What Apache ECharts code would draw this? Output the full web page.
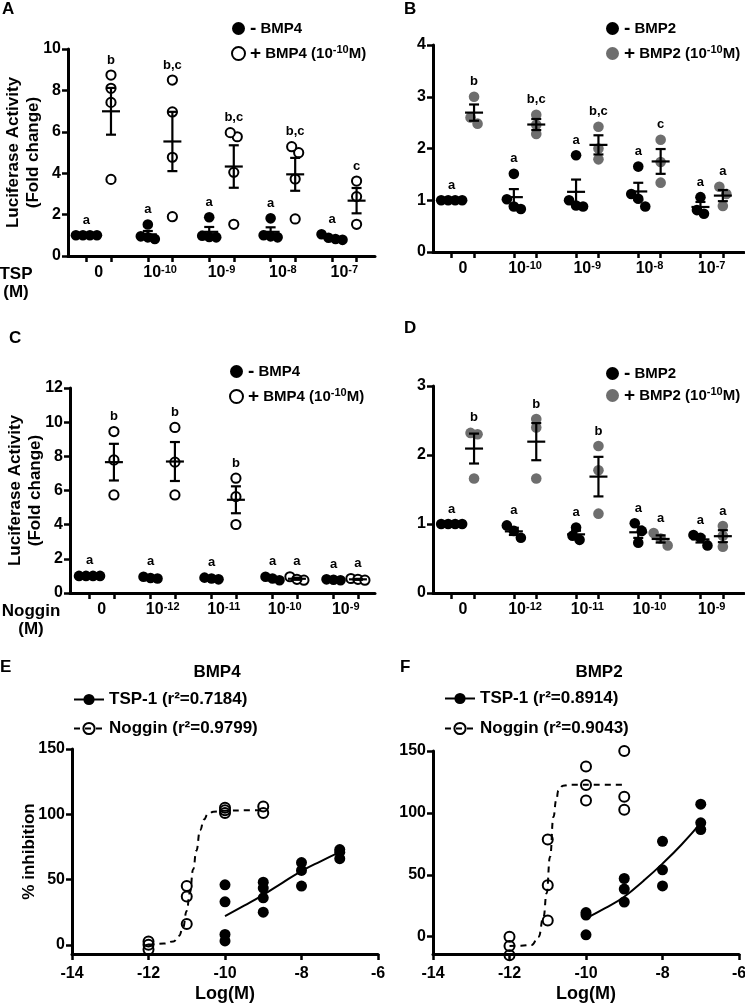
<!DOCTYPE html>
<html><head><meta charset="utf-8">
<script src="https://cdn.jsdelivr.net/npm/echarts@6/dist/echarts.min.js"></script>
<style>html,body{margin:0;padding:0;background:#fff}#c{width:745px;height:1004px}</style>
</head><body><div id="c"></div>
<script>
// ---------------- data ----------------
const tspLabels = ['0', '10^-10', '10^-9', '10^-8', '10^-7'];
const nogginLabels = ['0', '10^-12', '10^-11', '10^-10', '10^-9'];
const bmp4Names = ['- BMP4', '+ BMP4 (10^-10M)'];
const bmp2Names = ['- BMP2', '+ BMP2 (10^-10M)'];

// Panel A (TSP, BMP4)
const aMinus = [[1, 1, 1, 1], [1.52, 0.95, 0.9, 0.82], [1.87, 0.98, 0.92, 0.9], [1.82, 1.0, 0.95, 0.9], [1.05, 0.82, 0.78, 0.88]];
const aPlus = [[8.74, 8.1, 7.42, 3.7], [8.5, 6.96, 4.77, 1.9], [5.76, 5.96, 4.04, 1.53], [4.99, 5.28, 3.72, 1.79], [3.62, 2.87, 1.53]];
const aMinusLetters = ['a', 'a', 'a', 'a', 'a'];
const aPlusLetters = ['b', 'b,c', 'b,c', 'b,c', 'c'];

// Panel B (TSP, BMP2)
const bMinus = [[1, 1, 1, 1], [1.51, 1.02, 0.88, 0.83], [1.87, 1.0, 0.9, 0.88], [1.65, 1.12, 0.88, 1.03], [1.06, 0.74, 0.81]];
const bPlus = [[3.0, 2.6, 2.48], [2.65, 2.46, 2.28], [2.42, 2.0, 1.79], [2.17, 1.74, 1.34], [1.26, 1.12, 0.89]];
const bMinusLetters = ['a', 'a', 'a', 'a', 'a'];
const bPlusLetters = ['b', 'b,c', 'b,c', 'c', 'a'];

// Panel C (Noggin, BMP4)
const cMinus = [[1, 1, 1, 1], [0.95, 0.88, 0.85], [0.9, 0.85, 0.8], [0.95, 0.85, 0.75], [0.8, 0.78, 0.75]];
const cPlus = [[9.45, 7.79, 5.74], [9.69, 7.66, 5.74], [6.72, 5.64, 4.01], [0.95, 0.75, 0.8], [0.85, 0.8, 0.75]];
const cMinusLetters = ['a', 'a', 'a', 'a', 'a'];
const cPlusLetters = ['b', 'b', 'b', 'a', 'a'];

// Panel D (Noggin, BMP2)
const dMinus = [[1, 1, 1, 1], [0.98, 0.9, 0.8], [0.95, 0.83, 0.77], [1.01, 0.9, 0.73], [0.84, 0.8, 0.69]];
const dPlus = [[2.32, 2.3, 1.66], [2.52, 2.4, 1.66], [2.13, 1.78, 1.15], [0.87, 0.79, 0.69], [0.97, 0.83, 0.67]];
const dMinusLetters = ['a', 'a', 'a', 'a', 'a'];
const dPlusLetters = ['b', 'b', 'b', 'a', 'a'];

// Panel E (BMP4 % inhibition)
const eTspPoints = [[-10, 46], [-10, 33], [-10, 8], [-10, 3], [-9, 48], [-9, 43.5], [-9, 36], [-9, 25], [-8, 63], [-8, 57], [-8, 45], [-7, 73], [-7, 71], [-7, 66]];
const eNogPoints = [[-12, 2.5], [-12, 0], [-12, -3.5], [-11, 45], [-11, 37], [-11, 16], [-10, 105], [-10, 103], [-10, 101], [-9, 106], [-9, 101]];
const eTspCurve = [[-10, 22], [-9.5, 30], [-9, 38.3], [-8.5, 47.5], [-8, 56.5], [-7.5, 64], [-7, 71]];
const eNogCurve = [[-12, 0], [-11.6, 1], [-11.35, 2.6], [-11.2, 7], [-11.1, 13], [-11.0, 26], [-10.92, 40], [-10.83, 58], [-10.75, 72], [-10.65, 88], [-10.55, 96], [-10.45, 100], [-10.3, 102], [-10, 102.8], [-9.5, 103], [-9, 103]];

// Panel F (BMP2 % inhibition)
const fTspPoints = [[-10, 19.5], [-10, 17.5], [-10, 1.5], [-9, 47], [-9, 38.5], [-9, 28], [-8, 77], [-8, 54], [-8, 41], [-7, 107], [-7, 92], [-7, 86.5]];
const fNogPoints = [[-12, 0], [-12, -7.5], [-12, -15], [-11, 78.5], [-11, 41.5], [-11, 13], [-10, 137.5], [-10, 122.5], [-10, 110], [-9, 150], [-9, 113], [-9, 102.5]];
const fTspCurve = [[-10, 14.8], [-9.5, 23], [-9, 32.3], [-8.5, 45], [-8, 59], [-7.5, 74.5], [-7, 92]];
const fNogCurve = [[-12, -7.5], [-11.7, -7.3], [-11.42, -6.7], [-11.24, 0], [-11.11, 16], [-11.03, 35], [-10.94, 64.5], [-10.85, 96.8], [-10.78, 110], [-10.72, 118], [-10.6, 122], [-10.4, 122.8], [-9, 122.8]];

// ---------------- styling / building ----------------
const FONT = "'Liberation Sans', Arial, Helvetica, sans-serif";
const TXT = { fontFamily: FONT, fontWeight: 'bold', color: '#000' };
const GREY = '#6e6e6e';
const rich = {
  s: { fontFamily: FONT, fontWeight: 'bold', color: '#000', fontSize: 11, lineHeight: 11, verticalAlign: 'top' },
  pm: { fontFamily: FONT, fontWeight: 'bold', color: '#000', fontSize: 19, lineHeight: 18 }
};
function fmt(s) { return s.replace(/^([-+]) /, '{pm|$1} ').replace(/\^(-?\d+)/, '{s|$1}'); }

function swarm(pts) {
  const idx = pts.map((p, i) => i).sort((a, b) => pts[a][1] - pts[b][1]);
  const clusters = []; let cl = [idx[0]];
  for (let k = 1; k < idx.length; k++) {
    if (pts[idx[k]][1] - pts[cl[cl.length - 1]][1] < 8) cl.push(idx[k]);
    else { clusters.push(cl); cl = [idx[k]]; }
  }
  clusters.push(cl);
  clusters.forEach(c => c.forEach((i, j) => { pts[i][0] += (j - (c.length - 1) / 2) * 7; }));
}

function dotSeries(gi, groups, letters, offset, style, r, name) {
  return {
    type: 'custom', name: name, xAxisIndex: gi, yAxisIndex: gi, z: 3,
    data: groups.map((vals, g) => [5 * g + offset, Math.max.apply(null, vals)]),
    renderItem: function (params, api) {
      const g = params.dataIndex;
      const vals = groups[g];
      const x = api.value(0);
      const pts = vals.map(v => api.coord([x, v]));
      swarm(pts);
      const ch = [];
      pts.forEach(p => ch.push({ type: 'circle', shape: { cx: p[0], cy: p[1], r: r }, style: style }));
      const n = vals.length;
      const mean = vals.reduce((a, b) => a + b, 0) / n;
      const sd = Math.sqrt(vals.reduce((a, b) => a + (b - mean) * (b - mean), 0) / (n - 1));
      const sem = sd / Math.sqrt(n);
      const pm = api.coord([x, mean]), pt = api.coord([x, mean + sem]), pb = api.coord([x, mean - sem]);
      const ls = { stroke: '#000', lineWidth: 2.2 };
      ch.push({ type: 'line', shape: { x1: pm[0] - 9, y1: pm[1], x2: pm[0] + 9, y2: pm[1] }, style: ls });
      if (sem > 0.001) {
        ch.push({ type: 'line', shape: { x1: pm[0], y1: pt[1], x2: pm[0], y2: pb[1] }, style: ls });
        ch.push({ type: 'line', shape: { x1: pm[0] - 5, y1: pt[1], x2: pm[0] + 5, y2: pt[1] }, style: ls });
        ch.push({ type: 'line', shape: { x1: pm[0] - 5, y1: pb[1], x2: pm[0] + 5, y2: pb[1] }, style: ls });
      }
      const topY = Math.min(Math.min.apply(null, pts.map(p => p[1])), pt[1]);
      ch.push({ type: 'text', style: { text: letters[g], x: pm[0], y: topY - 15, align: 'center', verticalAlign: 'middle',
        fontSize: 13, fontWeight: 'bold', fontFamily: FONT, fill: '#000' } });
      return { type: 'group', children: ch };
    }
  };
}

const openStyle = { fill: '#fff', stroke: '#000', lineWidth: 2 };
const dotPanels = [
  { grid: { left: 68, top: 49, width: 307, height: 207 }, ymax: 10, yint: 2, min: -1.5, max: 23.5, pair: 2, cats: tspLabels,
    minus: aMinus, plus: aPlus, mL: aMinusLetters, pL: aPlusLetters, names: bmp4Names, plusStyle: openStyle, plusR: 4.6,
    yName: 'Luciferase Activity\n(Fold change)', xName: '{c|TSP}\n{c|(M)}', xNameW: 34, xNameGap: 35,
    legend: { left: 231, top: 19, itemGap: 6 } },
  { grid: { left: 433, top: 45, width: 311, height: 207 }, ymax: 4, yint: 1, min: -1.5, max: 23.5, pair: 1.8, cats: tspLabels,
    minus: bMinus, plus: bPlus, mL: bMinusLetters, pL: bPlusLetters, names: bmp2Names, plusStyle: { fill: GREY }, plusR: 5.3,
    legend: { left: 606, top: 19, itemGap: 6 } },
  { grid: { left: 70, top: 388, width: 305, height: 205 }, ymax: 12, yint: 2, min: -1.6, max: 23.4, pair: 2, cats: nogginLabels,
    minus: cMinus, plus: cPlus, mL: cMinusLetters, pL: cPlusLetters, names: bmp4Names, plusStyle: openStyle, plusR: 4.6,
    yName: 'Luciferase Activity\n(Fold change)', xName: '{c|Noggin}\n{c|(M)}', xNameW: 60, xNameGap: 9,
    legend: { left: 229, top: 362, itemGap: 6 } },
  { grid: { left: 433, top: 386, width: 311, height: 207 }, ymax: 3, yint: 1, min: -1.5, max: 23.5, pair: 1.8, cats: nogginLabels,
    minus: dMinus, plus: dPlus, mL: dMinusLetters, pL: dPlusLetters, names: bmp2Names, plusStyle: { fill: GREY }, plusR: 5.3,
    legend: { left: 606, top: 364, itemGap: 3 } }
];

const curvePanels = [
  { grid: { left: 72, top: 749, width: 306, height: 205 }, ymin: -7, tspName: 'TSP-1 (r²=0.7184)', nogName: 'Noggin (r²=0.9799)',
    tspPts: eTspPoints, nogPts: eNogPoints, tspCurve: eTspCurve, nogCurve: eNogCurve, yName: '% inhibition',
    legend: { left: 73, top: 690, itemGap: 10 } },
  { grid: { left: 433, top: 751, width: 306, height: 203 }, ymin: -14, tspName: 'TSP-1 (r²=0.8914)', nogName: 'Noggin (r²=0.9043)',
    tspPts: fTspPoints, nogPts: fNogPoints, tspCurve: fTspCurve, nogCurve: fNogCurve, yName: '',
    legend: { left: 444, top: 689, itemGap: 11 } }
];

const grids = [], xAxes = [], yAxes = [], series = [], legends = [];
const axisLineS = { onZero: false, lineStyle: { color: '#000', width: 3 } };
const tickS = { show: true, length: 6, lineStyle: { color: '#000', width: 2.5 } };

dotPanels.forEach((p, i) => {
  grids.push(Object.assign({ outerBoundsMode: 'none', containLabel: false }, p.grid));
  const ticks = [], labs = [];
  p.cats.forEach((c, g) => { ticks.push(5 * g, 5 * g + p.pair); labs.push(5 * g + p.pair / 2); });
  xAxes.push({
    gridIndex: i, type: 'value', min: p.min, max: p.max,
    axisLine: axisLineS,
    axisTick: Object.assign({ customValues: ticks }, tickS),
    axisLabel: Object.assign({ customValues: labs, margin: 8, fontSize: 16, lineHeight: 18, rich: rich,
      formatter: v => fmt(p.cats[Math.round((v - p.pair / 2) / 5)]) }, TXT),
    splitLine: { show: false },
    name: p.xName || '', nameLocation: 'start', nameGap: p.xNameGap || 0, nameMoveOverlap: false,
    nameTextStyle: Object.assign({ fontSize: 17, lineHeight: 18, align: 'right', verticalAlign: 'top', padding: [9, 0, 0, 0],
      rich: { c: Object.assign({ fontSize: 17, lineHeight: 18, width: p.xNameW || 30, align: 'center' }, TXT) } }, TXT)
  });
  yAxes.push({
    gridIndex: i, type: 'value', min: 0, max: p.ymax, interval: p.yint,
    axisLine: Object.assign({ show: true }, axisLineS), axisTick: tickS,
    axisLabel: Object.assign({ margin: 7, fontSize: 16 }, TXT),
    splitLine: { show: false },
    name: p.yName || '', nameLocation: 'middle', nameGap: 25, nameRotate: 90, nameMoveOverlap: false,
    nameTextStyle: Object.assign({ fontSize: 17, lineHeight: 20 }, TXT)
  });
  series.push(dotSeries(i, p.minus, p.mL, 0, { fill: '#000' }, 5.3, p.names[0]));
  series.push(dotSeries(i, p.plus, p.pL, p.pair, p.plusStyle, p.plusR, p.names[1]));
  const plusIcon = p.plusStyle.stroke ? { color: '#fff', borderColor: '#000', borderWidth: 2 } : { color: GREY };
  legends.push({
    left: p.legend.left, top: p.legend.top, orient: 'vertical', padding: 0, itemGap: p.legend.itemGap,
    itemWidth: 13, itemHeight: 13, selectedMode: false,
    data: [{ name: p.names[0], icon: 'circle', itemStyle: { color: '#000' } },
           { name: p.names[1], icon: 'circle', itemStyle: plusIcon }],
    formatter: name => fmt(name),
    textStyle: Object.assign({ fontSize: 15, lineHeight: 19, rich: rich }, TXT)
  });
});

curvePanels.forEach((p, k) => {
  const i = dotPanels.length + k;
  grids.push(Object.assign({ outerBoundsMode: 'none', containLabel: false }, p.grid));
  xAxes.push({
    gridIndex: i, type: 'value', min: -14, max: -6, interval: 2,
    axisLine: axisLineS, axisTick: tickS,
    axisLabel: Object.assign({ margin: 12, fontSize: 16 }, TXT),
    splitLine: { show: false },
    name: 'Log(M)', nameLocation: 'middle', nameGap: 31, nameMoveOverlap: false,
    nameTextStyle: Object.assign({ fontSize: 18, verticalAlign: 'top' }, TXT)
  });
  yAxes.push({
    gridIndex: i, type: 'value', min: p.ymin, max: 150,
    axisLine: Object.assign({ show: true }, axisLineS),
    axisTick: Object.assign({ customValues: [0, 50, 100, 150] }, tickS),
    axisLabel: Object.assign({ customValues: [0, 50, 100, 150], margin: 7, fontSize: 16 }, TXT),
    splitLine: { show: false },
    name: p.yName, nameLocation: 'middle', nameGap: 34, nameRotate: 90, nameMoveOverlap: false,
    nameTextStyle: Object.assign({ fontSize: 17 }, TXT)
  });
  const openPt = { color: 'rgba(255,255,255,0)', borderColor: '#000', borderWidth: 2, opacity: 1 };
  series.push({ type: 'line', name: p.tspName, xAxisIndex: i, yAxisIndex: i, data: p.tspCurve, smooth: true,
    symbol: 'circle', symbolSize: 11, showSymbol: false, lineStyle: { color: '#000', width: 2 }, itemStyle: { color: '#000' }, z: 2 });
  series.push({ type: 'line', name: p.nogName, xAxisIndex: i, yAxisIndex: i, data: p.nogCurve, smooth: true, smoothMonotone: 'x',
    symbol: 'circle', symbolSize: 10, showSymbol: false, lineStyle: { color: '#000', width: 2, type: [6, 5] }, itemStyle: openPt, z: 2 });
  series.push({ type: 'scatter', name: p.tspName, xAxisIndex: i, yAxisIndex: i, data: p.tspPts, symbolSize: 11, clip: false,
    itemStyle: { color: '#000', opacity: 1 }, z: 3 });
  series.push({ type: 'scatter', name: p.nogName, xAxisIndex: i, yAxisIndex: i, data: p.nogPts, symbolSize: 10, clip: false,
    itemStyle: openPt, z: 3 });
  legends.push({
    left: p.legend.left, top: p.legend.top, orient: 'vertical', padding: 0, itemGap: p.legend.itemGap,
    itemWidth: 30, itemHeight: 14, selectedMode: false,
    data: [p.tspName, p.nogName],
    textStyle: Object.assign({ fontSize: 17, lineHeight: 19 }, TXT)
  });
});

const titleS = Object.assign({ fontSize: 17 }, TXT);
const titles = [['A', 2, 1], ['B', 404, 1], ['C', 9, 330], ['D', 404, 320], ['E', 0, 659], ['F', 400, 659]]
  .map(t => ({ text: t[0], left: t[1], top: t[2], padding: 0, textStyle: titleS }));
titles.push({ text: 'BMP4', left: 217, top: 664, textAlign: 'center', padding: 0, textStyle: titleS });
titles.push({ text: 'BMP2', left: 599, top: 664, textAlign: 'center', padding: 0, textStyle: titleS });

const chart = echarts.init(document.getElementById('c'), null, { renderer: 'canvas' });
chart.setOption({
  animation: false,
  backgroundColor: '#fff',
  textStyle: { fontFamily: FONT },
  title: titles,
  legend: legends,
  grid: grids,
  xAxis: xAxes,
  yAxis: yAxes,
  series: series
});
</script></body></html>
